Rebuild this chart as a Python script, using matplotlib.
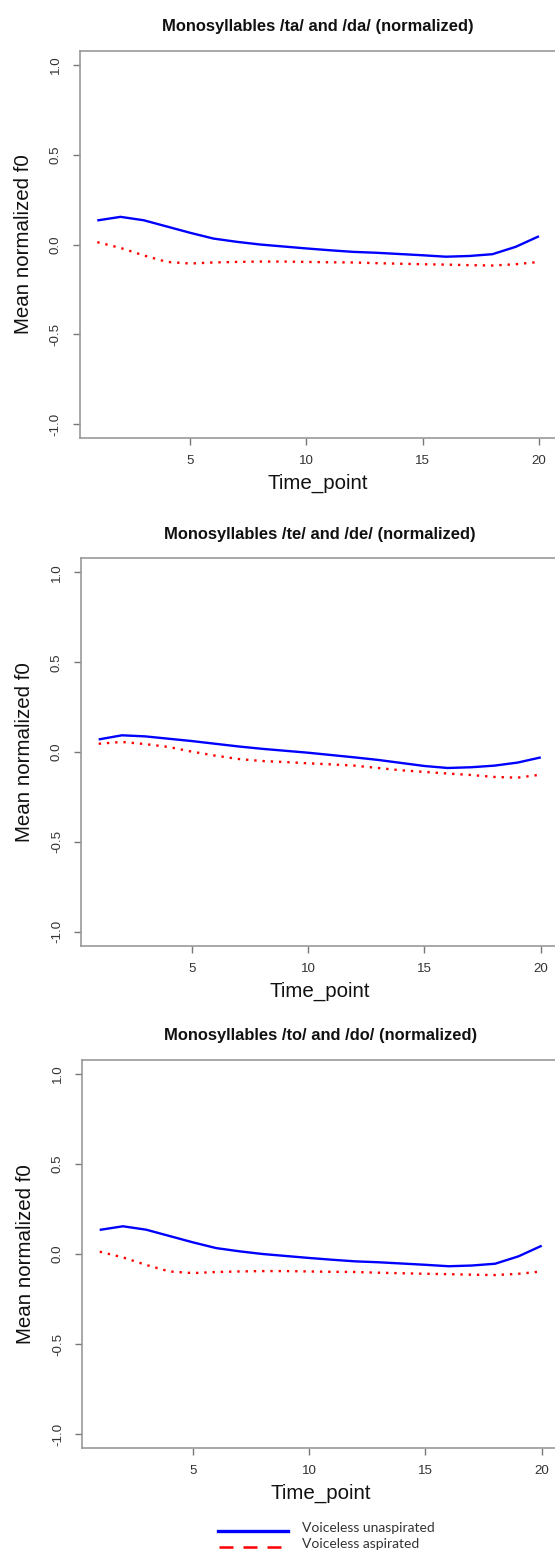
import numpy as np
import matplotlib
matplotlib.use("Agg")
import matplotlib.pyplot as plt
from matplotlib.lines import Line2D

plt.rcParams['font.family'] = ['Liberation Sans', 'DejaVu Sans']

# time points 1..20
time_point = np.arange(1, 21)

# /ta/ vs /da/
ta_unasp = [0.134, 0.154, 0.135, 0.100, 0.065, 0.033, 0.015, 0.000, -0.011, -0.022,
            -0.032, -0.041, -0.046, -0.053, -0.060, -0.068, -0.064, -0.054, -0.013, 0.046]
ta_asp = [0.013, -0.019, -0.061, -0.097, -0.106, -0.100, -0.097, -0.095, -0.095, -0.097,
          -0.099, -0.100, -0.104, -0.107, -0.110, -0.112, -0.115, -0.117, -0.110, -0.097]

# /te/ vs /de/
te_unasp = [0.070, 0.093, 0.087, 0.074, 0.061, 0.046, 0.031, 0.018, 0.007, -0.004,
            -0.017, -0.030, -0.044, -0.061, -0.078, -0.089, -0.085, -0.076, -0.059, -0.030]
te_asp = [0.046, 0.056, 0.044, 0.028, 0.002, -0.020, -0.039, -0.050, -0.056, -0.063,
          -0.069, -0.076, -0.089, -0.102, -0.111, -0.120, -0.128, -0.139, -0.143, -0.126]

# /to/ vs /do/
to_unasp = [0.134, 0.154, 0.135, 0.100, 0.065, 0.033, 0.015, 0.000, -0.011, -0.022,
            -0.032, -0.041, -0.046, -0.053, -0.060, -0.068, -0.064, -0.054, -0.013, 0.046]
to_asp = [0.013, -0.019, -0.061, -0.097, -0.106, -0.100, -0.097, -0.095, -0.095, -0.097,
          -0.099, -0.100, -0.104, -0.107, -0.110, -0.112, -0.115, -0.117, -0.110, -0.097]

titles = ["Monosyllables /ta/ and /da/ (normalized)",
          "Monosyllables /te/ and /de/ (normalized)",
          "Monosyllables /to/ and /do/ (normalized)"]
legend_labels = ["Voiceless unaspirated", "Voiceless aspirated"]

W, H = 555, 1551
fig = plt.figure(figsize=(W / 100, H / 100), dpi=100)

# pixel boxes (left, right, top, bottom)
boxes = [(79.6, 556.6, 50.6, 438.4),
         (81.0, 558.5, 558.1, 945.9),
         (82.0, 559.4, 1059.6, 1448.4)]
series = [(ta_unasp, ta_asp), (te_unasp, te_asp), (to_unasp, to_asp)]

frame_col = '#999999'
for (l, r, t, b), (unasp, asp), title in zip(boxes, series, titles):
    ax = fig.add_axes([l / W, 1 - b / H, (r - l) / W, (b - t) / H])
    ax.plot(time_point, unasp, color='#0000ff', lw=1.7, solid_capstyle='butt')
    ax.plot(time_point, asp, color='#ff0000', lw=1.7, linestyle=(0, (1, 2.5)))
    ax.set_xlim(0.24, 20.76)
    ax.set_ylim(-1.08, 1.08)
    ax.set_xticks([5, 10, 15, 20])
    ax.set_yticks([-1.0, -0.5, 0.0, 0.5, 1.0])
    ax.set_yticklabels(['-1.0', '-0.5', '0.0', '0.5', '1.0'], rotation=90, va='center')
    ax.spines['right'].set_visible(False)
    for s in ['top', 'left', 'bottom']:
        ax.spines[s].set_color(frame_col)
        ax.spines[s].set_linewidth(1.2)
    ax.tick_params(length=5, width=1.0, color='#777777', labelsize=9.6,
                   labelcolor='#333333')
    ax.tick_params(axis='x', pad=7)
    ax.tick_params(axis='y', pad=8)
    ax.set_title(title, fontsize=11.9, fontweight='bold', color='#111111', pad=14)
    ax.set_xlabel('Time_point', fontsize=14.8, color='#111111', labelpad=5)
    ax.set_ylabel('Mean normalized f0', fontsize=14.8, color='#111111', labelpad=12)

# legend drawn below the last panel
leg_ax = fig.add_axes([0, 0, 1, 1], facecolor='none')
leg_ax.set_xlim(0, W)
leg_ax.set_ylim(H, 0)
leg_ax.axis('off')
leg_ax.add_line(Line2D([218, 288], [1530.7, 1530.7], color='#0000ff', lw=2.4))
leg_ax.add_line(Line2D([219, 281], [1546.7, 1546.7], color='#ff0000', lw=1.8,
                       dashes=(5.6, 4.0)))
leg_ax.text(302, 1528, legend_labels[0], family=['Lato', 'DejaVu Sans'], fontsize=10,
            color='#333333', va='center', ha='left')
leg_ax.text(302, 1544, legend_labels[1], family=['Lato', 'DejaVu Sans'], fontsize=10,
            color='#333333', va='center', ha='left')

fig.savefig('out.png', dpi=100)
